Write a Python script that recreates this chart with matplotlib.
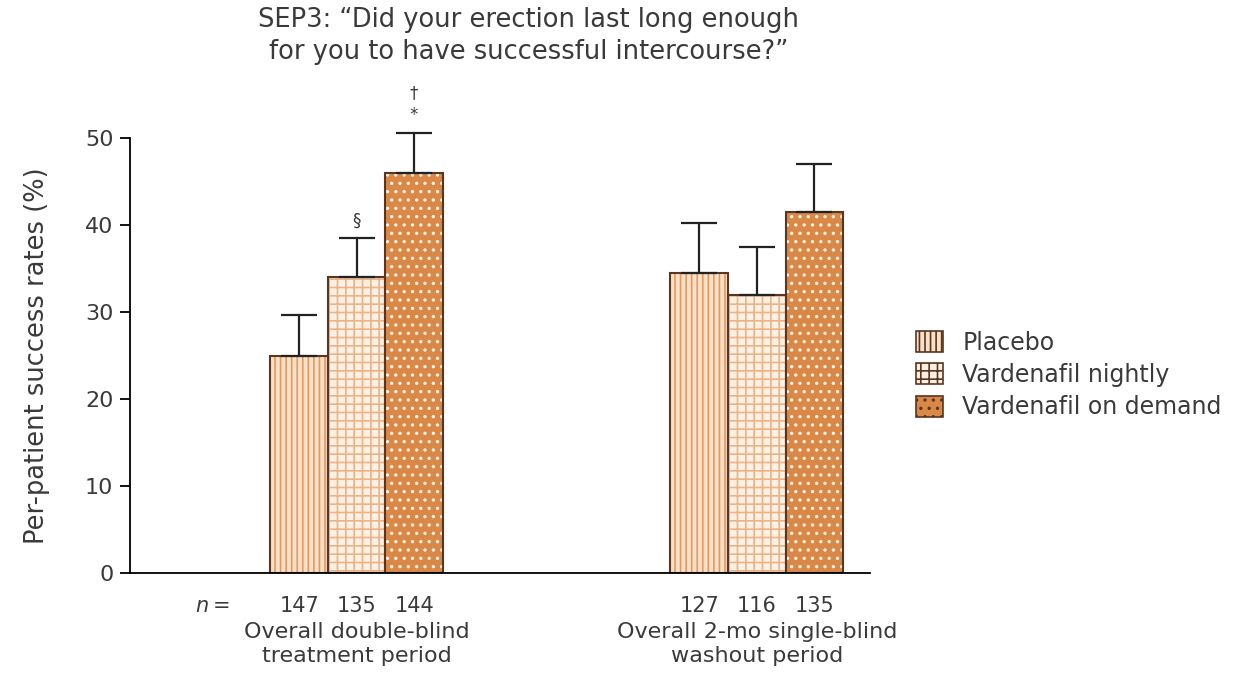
import matplotlib.pyplot as plt
from matplotlib.patches import Patch
import numpy as np

plt.rcParams['font.family'] = ['DejaVu Sans']
plt.rcParams['hatch.linewidth'] = 1.2

groups = ['Overall double-blind\ntreatment period', 'Overall 2-mo single-blind\nwashout period']
series = ['Placebo', 'Vardenafil nightly', 'Vardenafil on demand']
values = {
    'Placebo': [25.0, 34.5],
    'Vardenafil nightly': [34.0, 32.0],
    'Vardenafil on demand': [46.0, 41.5],
}
err_top = {
    'Placebo': [29.6, 40.2],
    'Vardenafil nightly': [38.5, 37.5],
    'Vardenafil on demand': [50.6, 47.0],
}
n_labels = {
    'Placebo': ['147', '127'],
    'Vardenafil nightly': ['135', '116'],
    'Vardenafil on demand': ['144', '135'],
}
marks = {('Vardenafil nightly', 0): ['§'], ('Vardenafil on demand', 0): ['*', '†']}

faces = ['#fbe0c8', '#fdf0e2', '#d98848']
hatch_cols = ['#e39a62', '#eab48a', '#fff1df']
hatches = ['|||', '++', '..']
edge = '#5a3520'
txt = '#3a3a3a'

fig = plt.figure(figsize=(12.38, 6.85), dpi=100)
ax = fig.add_axes([0.105, 0.1635, 0.598, 0.635])

centers = np.array([226.5, 626.5])
width = 57.5
offsets = [-width, 0, width]

for k, s in enumerate(series):
    x = centers + offsets[k]
    ax.bar(x, values[s], width, color=faces[k], edgecolor=hatch_cols[k],
           hatch=hatches[k], linewidth=0)
    ax.bar(x, values[s], width, color='none', edgecolor=edge, linewidth=1.5)
    yerr = np.array(err_top[s]) - np.array(values[s])
    ax.errorbar(x, values[s], yerr=[np.zeros_like(yerr), yerr], fmt='none',
                ecolor='#222222', elinewidth=1.6, capsize=13, capthick=1.6,
                clip_on=False)
    for g in range(2):
        ax.text(x[g], -3.8, n_labels[s][g], ha='center', va='center', fontsize=15,
                color=txt)
        for j, m in enumerate(marks.get((s, g), [])):
            ax.text(x[g], err_top[s][g] + 2.0 + 2.6 * j, m, ha='center',
                    va='center', fontsize=12, color=txt)

ax.text(72, -3.8, 'n', ha='center', va='center', fontsize=15, style='italic', color=txt)
ax.text(92, -3.8, '=', ha='center', va='center', fontsize=15, color=txt)
for g in range(2):
    ax.text(centers[g], -5.6, groups[g], ha='center', va='top', fontsize=16,
            color=txt, linespacing=1.25)

ax.set_xlim(0, 740)
ax.set_ylim(0, 50)
ax.set_yticks([0, 10, 20, 30, 40, 50])
ax.set_xticks([])
ax.spines['top'].set_visible(False)
ax.spines['right'].set_visible(False)
ax.spines['left'].set_linewidth(1.3)
ax.spines['bottom'].set_linewidth(1.3)
ax.tick_params(axis='y', direction='out', length=7, width=1.3, labelsize=16,
               labelcolor=txt, pad=5)
ax.set_ylabel('Per-patient success rates (%)', fontsize=18.5, color=txt, labelpad=25)

fig.text(0.427, 0.99, 'SEP3: \u201cDid your erection last long enough\nfor you to have successful intercourse?\u201d',
         ha='center', va='top', fontsize=18.5, color=txt, linespacing=1.3)

handles = [Patch(facecolor=faces[k], edgecolor=edge, hatch=hatches[k], linewidth=1.2)
           for k in range(3)]
fig.legend(handles, series, loc='center left', bbox_to_anchor=(0.74, 0.4526),
           frameon=False, fontsize=17, handlelength=1.15, handleheight=1.0,
           handletextpad=0.8, labelspacing=0.35, borderpad=0, borderaxespad=0,
           labelcolor=txt)

fig.savefig('out.png', dpi=100)
